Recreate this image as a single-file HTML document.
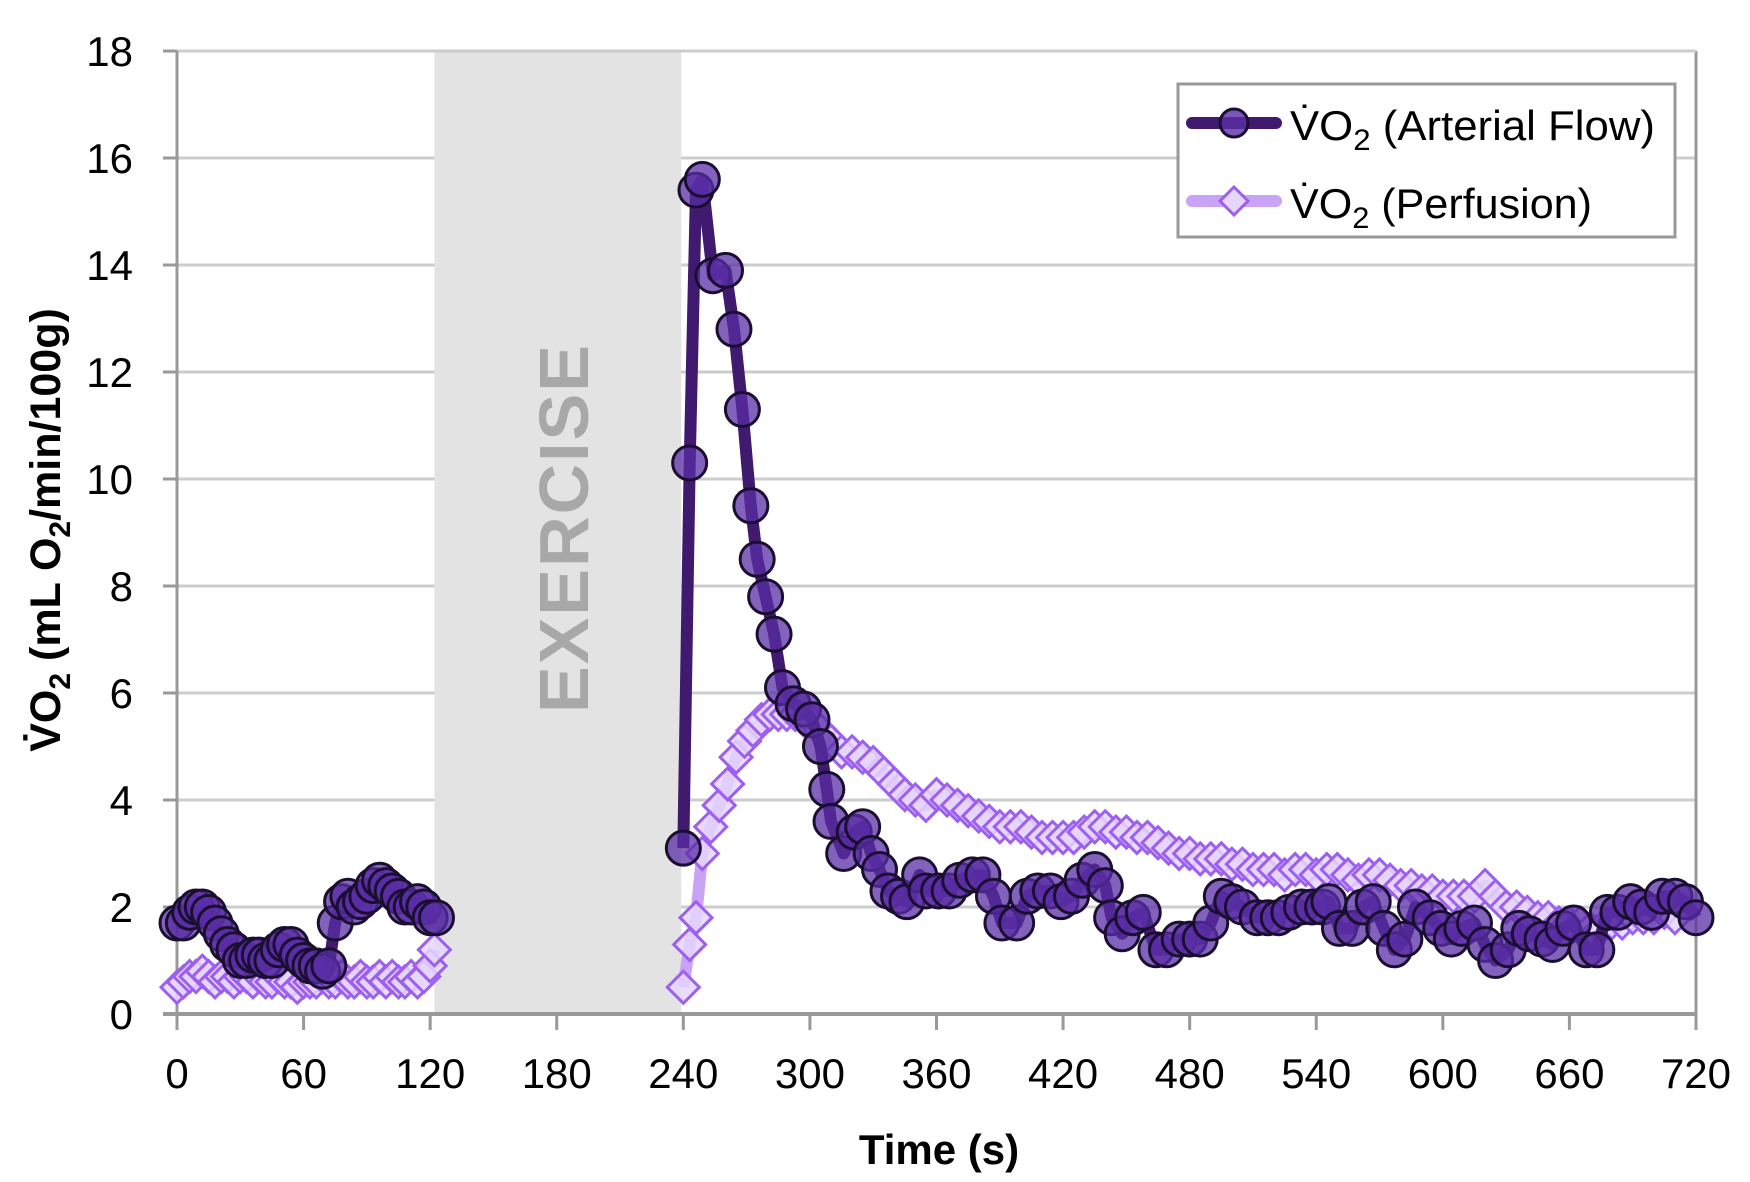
<!DOCTYPE html>
<html><head><meta charset="utf-8"><style>
html,body{margin:0;padding:0;background:#fff;}
svg{display:block;font-family:"Liberation Sans",sans-serif;}
</style></head><body>
<svg id="chart" width="1750" height="1182" viewBox="0 0 1750 1182" xmlns="http://www.w3.org/2000/svg">
<g id="grid"></g>
<rect id="shade" fill="#e3e3e3"/>
<text transform="translate(588,528) rotate(-90)" text-anchor="middle" font-size="70" font-weight="bold" fill="#a8a8a8" letter-spacing="2">EXERCISE</text>
<g id="axes"></g>
<g id="perf"></g>
<g id="art"></g>
<text transform="translate(60,530) rotate(-90)" text-anchor="middle" font-size="43" font-weight="bold" fill="#000">V̇O<tspan font-size="30" dy="10">2</tspan><tspan dy="-10"> (mL O</tspan><tspan font-size="30" dy="10">2</tspan><tspan dy="-10">/min/100g)</tspan></text>
<text x="939" y="1164" text-anchor="middle" font-size="42" font-weight="bold" fill="#000">Time (s)</text>
<g>
<rect x="1178" y="84" width="497" height="153" fill="#fff" stroke="#999" stroke-width="3"/>
<g>
<line x1="1192" y1="123" x2="1276" y2="123" stroke="#3f1a6e" stroke-width="12" stroke-linecap="round"/>
<circle cx="1234" cy="123" r="14" fill="#5a2ea6" fill-opacity="0.8" stroke="#1a0f30" stroke-width="3"/>
<text x="1290" y="140" font-size="42" fill="#000" textLength="365" lengthAdjust="spacingAndGlyphs">V̇O<tspan font-size="30" dy="10">2</tspan><tspan dy="-10"> (Arterial Flow)</tspan></text>
</g>
<g>
<line x1="1192" y1="201" x2="1276" y2="201" stroke="#c9a3f5" stroke-width="12" stroke-linecap="round"/>
<path d="M1234 187 L1248 201 L1234 215 L1220 201 Z" fill="#e6d6fb" stroke="#9c5ff0" stroke-width="3"/>
<text x="1290" y="218" font-size="42" fill="#000" textLength="302" lengthAdjust="spacingAndGlyphs">V̇O<tspan font-size="30" dy="10">2</tspan><tspan dy="-10"> (Perfusion)</tspan></text>
</g>
</g>
</svg>
<script>
const xTicks=[0,60,120,180,240,300,360,420,480,540,600,660,720];
const yTicks=[0,2,4,6,8,10,12,14,16,18];
const exerciseStart=122;
const exerciseEnd=239;
const artPreT=[0,3,6,9,12,15,18,21,24,27,30,33,36,39,42,45,48,51,54,57,60,63,66,69,72,75,78,81,84,87,90,93,96,99,102,105,108,111,114,117,120,123];
const artPreV=[1.7,1.7,1.9,2.0,2.0,1.9,1.7,1.5,1.3,1.2,1.0,1.0,1.1,1.1,1.0,1.0,1.2,1.3,1.3,1.1,1.0,0.9,0.9,0.8,0.9,1.7,2.1,2.2,2.0,2.1,2.2,2.4,2.5,2.4,2.3,2.2,2.0,2.0,2.1,2.0,1.8,1.8];
const artPostT=[240,243,246,249,254,260,264,268,272,275,279,283,287,292,297,301,305,308,310,316,321,325,329,333,337,342,346,352,355,361,366,371,377,382,387,391,398,403,408,414,419,424,429,435,440,443,448,453,458,464,469,475,480,485,490,495,500,505,512,517,522,527,533,538,543,546,551,557,562,567,572,577,582,587,594,599,604,609,615,620,625,631,636,641,647,652,657,662,668,673,678,683,689,694,699,704,710,715,720];
const artPostV=[3.1,10.3,15.4,15.6,13.8,13.9,12.8,11.3,9.5,8.5,7.8,7.1,6.1,5.8,5.7,5.5,5.0,4.2,3.6,3.0,3.4,3.5,3.0,2.7,2.3,2.2,2.1,2.6,2.3,2.3,2.3,2.5,2.6,2.6,2.2,1.7,1.7,2.2,2.3,2.3,2.1,2.2,2.5,2.7,2.4,1.8,1.5,1.8,1.9,1.2,1.2,1.4,1.4,1.4,1.7,2.2,2.1,2.0,1.8,1.8,1.8,1.9,2.0,2.0,2.0,2.1,1.6,1.6,2.0,2.1,1.6,1.2,1.4,2.0,1.8,1.6,1.4,1.6,1.7,1.3,1.0,1.2,1.6,1.5,1.4,1.3,1.6,1.7,1.2,1.2,1.9,1.9,2.1,2.0,1.9,2.2,2.2,2.1,1.8];
const perfPreT=[0,3,6,9,12,15,18,21,24,27,30,33,36,39,42,45,48,51,54,57,60,63,66,69,72,75,78,81,84,87,90,93,96,99,102,105,108,111,114,117,120,122];
const perfPreV=[0.5,0.6,0.7,0.7,0.8,0.7,0.6,0.7,0.7,0.6,0.7,0.7,0.6,0.7,0.6,0.6,0.7,0.6,0.6,0.5,0.6,0.6,0.6,0.7,0.6,0.6,0.7,0.6,0.6,0.7,0.6,0.6,0.7,0.6,0.7,0.6,0.6,0.7,0.6,0.7,0.9,1.2];
const perfPostT=[240,243,246,249,253,257,261,265,269,273,277,281,285,289,293,297,300,305,310,315,320,325,330,335,340,345,350,355,360,365,370,375,380,385,390,395,400,405,410,415,420,425,430,435,440,445,450,455,460,465,470,475,480,485,490,495,500,505,510,515,520,525,530,535,540,545,550,555,560,565,570,575,580,585,590,595,600,605,610,615,620,625,630,635,640,645,650,655,660,665,670,675,680,685,690,695,700,705,710];
const perfPostV=[0.5,1.3,1.8,3.0,3.5,3.9,4.3,4.8,5.1,5.3,5.5,5.6,5.6,5.6,5.6,5.5,5.5,5.3,5.1,4.9,4.9,4.8,4.7,4.5,4.3,4.1,4.0,3.9,4.1,4.0,3.9,3.8,3.7,3.6,3.5,3.5,3.5,3.4,3.3,3.3,3.3,3.3,3.4,3.5,3.5,3.4,3.4,3.3,3.3,3.2,3.1,3.0,3.0,2.9,2.9,2.9,2.8,2.8,2.7,2.7,2.7,2.6,2.7,2.7,2.6,2.7,2.7,2.6,2.5,2.6,2.6,2.5,2.4,2.4,2.3,2.3,2.2,2.2,2.2,2.2,2.4,2.2,2.0,2.0,1.9,1.8,1.8,1.7,1.7,1.7,1.6,1.6,1.7,1.7,1.8,1.8,1.8,1.9,1.8];

const NS='http://www.w3.org/2000/svg';
const X0=177,X1=1696,Y0=1014,Y1=51;
function xs(t){return X0+(t/720)*(X1-X0);}
function ys(v){return Y0-(v/18)*(Y0-Y1);}
function mk(tag,attrs,parent){const e=document.createElementNS(NS,tag);for(const k in attrs)e.setAttribute(k,attrs[k]);parent.appendChild(e);return e;}
const grid=document.getElementById('grid'),axes=document.getElementById('axes');
yTicks.forEach(v=>{
  if(v>0){const g=mk('line',{x1:X0,x2:X1,y1:ys(v),y2:ys(v),stroke:'#cccccc','stroke-width':3},grid);
  
  }
  const tk=mk('line',{x1:X0-14,x2:X0,y1:ys(v),y2:ys(v),stroke:'#999','stroke-width':3},axes);
  
  
  const lb=mk('text',{x:X0-44,y:ys(v)+15,'text-anchor':'end','font-size':42,fill:'#000'},axes);
  
  
  lb.textContent=v;
});
const sh=document.getElementById('shade');
sh.setAttribute('x',xs(exerciseStart));sh.setAttribute('y',Y1);
sh.setAttribute('width',xs(exerciseEnd)-xs(exerciseStart));sh.setAttribute('height',Y0-Y1);
const rb=mk('line',{x1:X1,x2:X1,y1:Y1,y2:Y0,stroke:'#999','stroke-width':3},axes);


const tb=mk('line',{x1:X0,x2:X1,y1:Y1,y2:Y1,stroke:'#cccccc','stroke-width':3},axes);


const ya=mk('line',{x1:X0,x2:X0,y1:Y1,y2:Y0,stroke:'#999','stroke-width':3},axes);


const xa=mk('line',{x1:X0-14,x2:X1,y1:Y0,y2:Y0,stroke:'#999','stroke-width':4},axes);


xTicks.forEach(t=>{
  const tk=mk('line',{x1:xs(t),x2:xs(t),y1:Y0,y2:Y0+16,stroke:'#999','stroke-width':3},axes);
  
  
  const lb=mk('text',{x:xs(t),y:Y0+74,'text-anchor':'middle','font-size':42,fill:'#000'},axes);
  
  
  lb.textContent=t;
});
function poly(T,V){return T.map((t,i)=>xs(t).toFixed(1)+','+ys(V[i]).toFixed(1)).join(' ');}
const perf=document.getElementById('perf'),art=document.getElementById('art');
[[perfPreT,perfPreV],[perfPostT,perfPostV]].forEach(([T,V])=>{
  const l=mk('polyline',{points:poly(T,V),fill:'none',stroke:'#c9a3f5','stroke-width':12,'stroke-linejoin':'round'},perf);
  
  
  T.forEach((t,i)=>{const x=xs(t),y=ys(V[i]),s=16;
    const d=mk('path',{d:`M${x} ${y-s} L${x+s} ${y} L${x} ${y+s} L${x-s} ${y} Z`,fill:'#e6d6fb','fill-opacity':0.85,stroke:'#9c5ff0','stroke-width':3},perf);
    
    });
});
[[artPreT,artPreV],[artPostT,artPostV]].forEach(([T,V])=>{
  const l=mk('polyline',{points:poly(T,V),fill:'none',stroke:'#3f1a6e','stroke-width':12,'stroke-linejoin':'round'},art);
  
  
  T.forEach((t,i)=>{
    const c=mk('circle',{cx:xs(t),cy:ys(V[i]),r:17,fill:'#5a2ea6','fill-opacity':0.75,stroke:'#1a0f30','stroke-width':3},art);
    
    });
});
</script>
</body></html>
